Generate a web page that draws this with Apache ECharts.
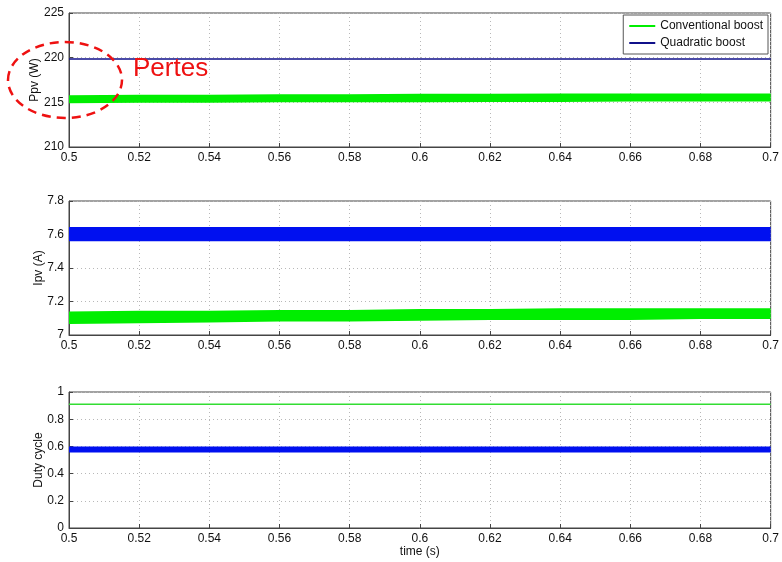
<!DOCTYPE html>
<html>
<head>
<meta charset="utf-8">
<script src="https://cdn.jsdelivr.net/npm/echarts@6/dist/echarts.min.js"></script>
<style>html,body{margin:0;padding:0;background:#fff}#c{width:782px;height:562px}</style>
</head>
<body>
<div id="c"></div>
<script>
// ---- data ----
var time = ['0.5','0.52','0.54','0.56','0.58','0.6','0.62','0.64','0.66','0.68','0.7'];
// Ppv (W)
var ppvConvLow  = [214.9, 214.95, 214.95, 215.0, 215.0, 215.0, 215.05, 215.05, 215.1, 215.1, 215.1];
var ppvConvHigh = [215.8, 215.85, 215.85, 215.9, 215.9, 215.95, 215.95, 216.0, 216.0, 216.0, 216.0];
var ppvQuad     = [219.85, 219.85, 219.85, 219.85, 219.85, 219.85, 219.85, 219.85, 219.85, 219.85, 219.85];
// Ipv (A)
var ipvQuadLow  = [7.56, 7.56, 7.56, 7.56, 7.56, 7.56, 7.56, 7.56, 7.56, 7.56, 7.56];
var ipvQuadHigh = [7.645, 7.645, 7.645, 7.645, 7.645, 7.645, 7.645, 7.645, 7.645, 7.645, 7.645];
var ipvConvLow  = [7.065, 7.07, 7.075, 7.08, 7.08, 7.085, 7.09, 7.09, 7.09, 7.095, 7.095];
var ipvConvHigh = [7.14, 7.145, 7.145, 7.15, 7.15, 7.155, 7.155, 7.16, 7.16, 7.16, 7.16];
// Duty cycle
var dutyConv     = [0.91, 0.91, 0.91, 0.91, 0.91, 0.91, 0.91, 0.91, 0.91, 0.91, 0.91];
var dutyQuadLow  = [0.555, 0.555, 0.555, 0.555, 0.555, 0.555, 0.555, 0.555, 0.555, 0.555, 0.555];
var dutyQuadHigh = [0.6, 0.6, 0.6, 0.6, 0.6, 0.6, 0.6, 0.6, 0.6, 0.6, 0.6];

var GREEN = '#00ee00', BLUE = '#0010f0', NAVY = '#10108a', LGREEN = '#33dd33';
var FONT = 'Liberation Sans, Arial, sans-serif';

function diff(hi, lo){ return hi.map(function(v,i){ return +(v - lo[i]).toFixed(4); }); }

function band(gi, lo, hi, color, name, stack){
  return [
    {type:'line', name: stack+'lo', xAxisIndex:gi, yAxisIndex:gi, stack:stack, data:lo.slice(),
     symbol:'none', lineStyle:{width:0, opacity:0}, silent:true, color:color, z:2},
    {type:'line', name:name, xAxisIndex:gi, yAxisIndex:gi, stack:stack, data:diff(hi, lo),
     symbol:'none', lineStyle:{width:0}, areaStyle:{color:color, opacity:1}, color:color, z:2}
  ];
}

var grids = [
  {left:69, right:10, top:13, height:134},
  {left:69, right:10, top:201, height:134},
  {left:69, right:10, top:392, height:136}
];
var yDefs = [
  {min:210, max:225, interval:5, name:'Ppv (W)', gap:28},
  {min:7, max:7.8, interval:0.2, name:'Ipv (A)', gap:24},
  {min:0, max:1, interval:0.2, name:'Duty cycle', gap:24}
];

var axisLine = {show:true, lineStyle:{color:'#444', width:1}};
var splitLine = {show:true, interval:0, lineStyle:{color:'#b8b8b8', type:[1,3], width:1}};

var option = {
  backgroundColor:'#fff',
  animation:false,
  textStyle:{fontFamily:FONT},
  grid: grids.map(function(g){ return Object.assign({show:true, borderColor:'#444', borderWidth:1, backgroundColor:'#fff'}, g); }),
  xAxis: grids.map(function(g, i){
    return {type:'category', gridIndex:i, data:time, boundaryGap:false,
      axisLine:axisLine, axisTick:{show:true, inside:true, length:4, interval:0, lineStyle:{color:'#444'}},
      splitLine:splitLine,
      axisLabel:{color:'#111', fontSize:12, fontFamily:FONT, margin:5, interval:0},
      name: i===2 ? 'time (s)' : '', nameLocation:'middle', nameGap:18, nameMoveOverlap:false,
      nameTextStyle:{color:'#111', fontSize:12, fontFamily:FONT}};
  }),
  yAxis: yDefs.map(function(d, i){
    return {type:'value', gridIndex:i, min:d.min, max:d.max, interval:d.interval,
      axisLine:axisLine, axisTick:{show:true, inside:true, length:4, lineStyle:{color:'#444'}},
      splitLine:{show:true, lineStyle:{color:'#b8b8b8', type:[1,3], width:1}},
      axisLabel:{color:'#111', fontSize:12, fontFamily:FONT, margin:5,
        formatter:function(v){ return String(+v.toFixed(2)); }},
      name:d.name, nameLocation:'middle', nameGap:d.gap, nameRotate:90, nameMoveOverlap:false,
      nameTextStyle:{color:'#111', fontSize:12, fontFamily:FONT}};
  }),
  legend:{
    show:true, right:14, top:15, orient:'vertical', itemGap:5,
    backgroundColor:'#fff', borderColor:'#555', borderWidth:1, padding:[5,5,5,6],
    itemWidth:26, itemHeight:2, icon:'rect',
    textStyle:{color:'#111', fontSize:12, fontFamily:FONT},
    data:[
      {name:'Conventional boost', itemStyle:{color:GREEN}},
      {name:'Quadratic boost', itemStyle:{color:NAVY}}
    ]
  },
  series: [].concat(
    band(0, ppvConvLow, ppvConvHigh, GREEN, 'Conventional boost', 'p0'),
    [{type:'line', name:'Quadratic boost', xAxisIndex:0, yAxisIndex:0, data:ppvQuad,
      symbol:'none', lineStyle:{width:1.5, color:NAVY}, color:NAVY, z:3}],
    band(1, ipvQuadLow, ipvQuadHigh, BLUE, 'Quadratic boost', 'i1'),
    band(1, ipvConvLow, ipvConvHigh, GREEN, 'Conventional boost', 'i0'),
    [{type:'line', name:'Conventional boost', xAxisIndex:2, yAxisIndex:2, data:dutyConv,
      symbol:'none', lineStyle:{width:1.5, color:LGREEN}, color:LGREEN, z:3}],
    band(2, dutyQuadLow, dutyQuadHigh, BLUE, 'Quadratic boost', 'd1')
  ),
  graphic:[
    {type:'ellipse', shape:{cx:65, cy:80, rx:57, ry:38}, z:100,
     style:{fill:null, stroke:'#ee1111', lineWidth:2.5, lineDash:[9,6]}},
    {type:'text', left:133, top:56, z:100,
     style:{text:'Pertes', fill:'#ee1111', fontSize:26, fontFamily:FONT}}
  ]
};

var chart = echarts.init(document.getElementById('c'), null, {renderer:'canvas'});
chart.setOption(option);
</script>
</body>
</html>
